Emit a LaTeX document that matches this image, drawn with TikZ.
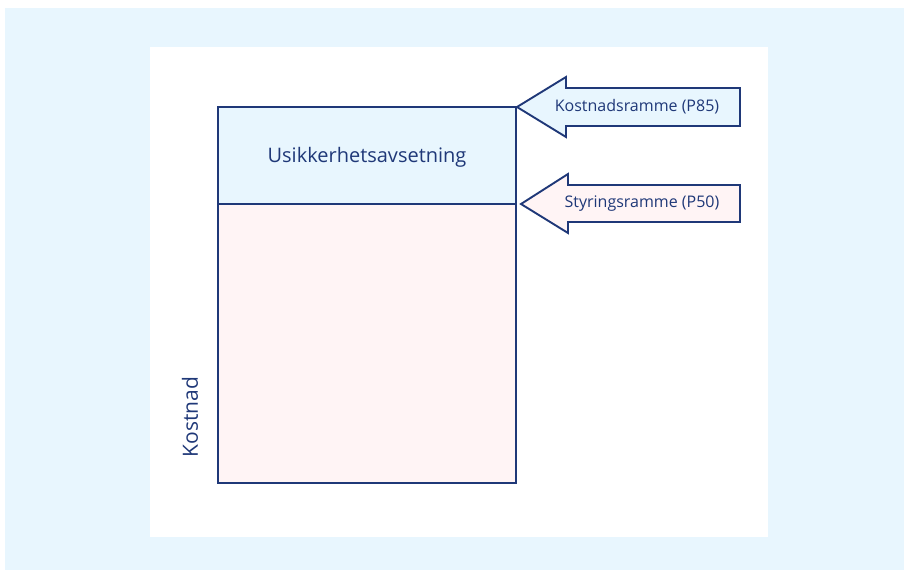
\documentclass[tikz,border=0pt]{standalone}
\usepackage{fontspec}
\setmainfont{Open Sans}
\usepackage{xcolor}
\usetikzlibrary{positioning}

\definecolor{navy}{RGB}{31,56,120}
\definecolor{skyfill}{RGB}{232,246,254}
\definecolor{rosefill}{RGB}{255,244,245}

\begin{document}
\begin{tikzpicture}[x=1pt, y=-1pt,
      part/.style={draw=navy, line width=1.9pt, minimum width=298pt, inner sep=0pt, outer sep=0pt, text=navy},
      pointer/.style={draw=navy, line width=1.9pt, line join=miter},
      tag/.style={text=navy, font=\fontsize{16}{19}\selectfont, inner sep=0pt}]
    \useasboundingbox (0,0) rectangle (904,570);
    \fill[skyfill] (5,8) rectangle (904,570);
    \fill[white] (150,47) rectangle (768,537);

    % cost column
    \node[part, fill=skyfill, minimum height=97pt, text depth=2pt, font=\fontsize{20}{24}\selectfont] (reserve) at (367,155.5) {Usikkerhetsavsetning};
    \node[part, fill=rosefill, minimum height=279pt, below=0pt of reserve] (base) {};
    \node[rotate=90, text=navy, font=\fontsize{21}{25}\selectfont] (axis) at (190,417) {Kostnad};

    % frame arrows
    \filldraw[pointer, fill=skyfill] (517,107) -- (566,77) -- (566,88) -- (740,88) -- (740,126) -- (566,126) -- (566,137) -- cycle;
    \node[tag] (p85) at (637,107) {Kostnadsramme (P85)};
    \filldraw[pointer, fill=rosefill] (521,204) -- (568,174) -- (568,185) -- (740,185) -- (740,222) -- (568,222) -- (568,233) -- cycle;
    \node[tag] (p50) at (642,204) {Styringsramme (P50)};
  \end{tikzpicture}
\end{document}
